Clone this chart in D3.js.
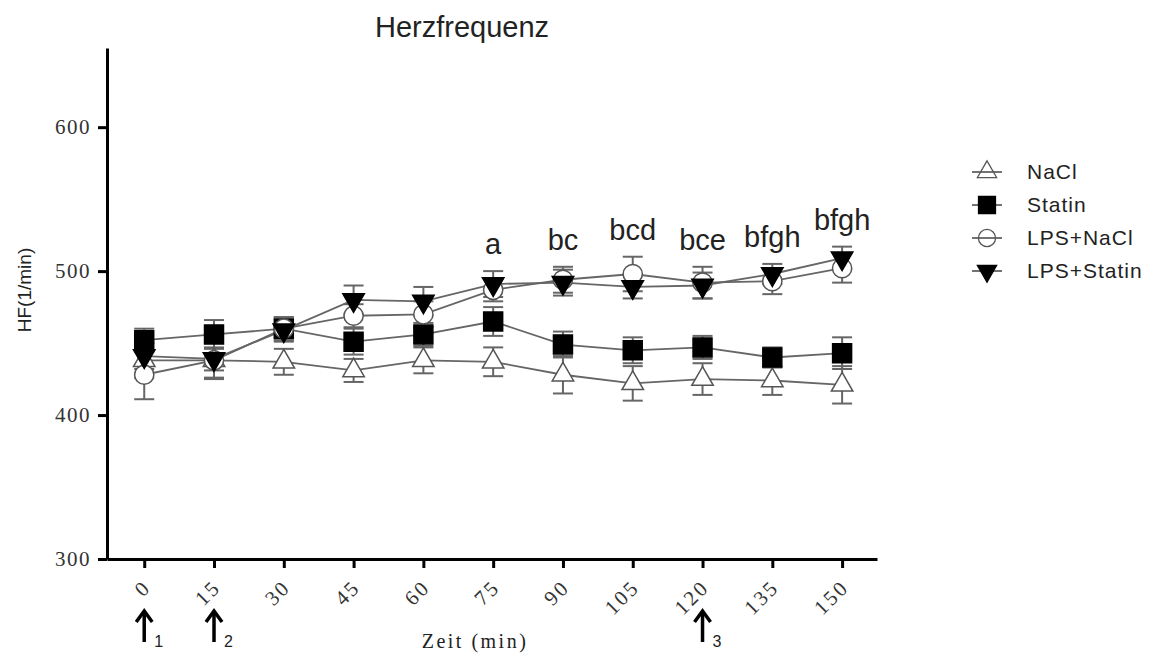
<!DOCTYPE html>
<html>
<head>
<meta charset="utf-8">
<script src="https://cdn.jsdelivr.net/npm/d3@7"></script>
<style>
  body { margin: 0; background: #fff; }
  svg { display: block; }
</style>
</head>
<body>
<svg id="chart" width="1162" height="655"></svg>
<script>
// time points (min)
var times = [0, 15, 30, 45, 60, 75, 90, 105, 120, 135, 150];

// heart rate means (1/min)
var nacl      = [438, 438, 437, 431, 438, 437, 428, 422, 425, 424, 421];
var statin    = [452, 456, 460, 451, 456, 465, 449, 445, 447, 440, 443];
var lpsNacl   = [428, 438, 460, 469, 470, 487, 494, 498, 492, 493, 502];
var lpsStatin = [441, 439, 459, 480, 479, 491, 492, 489, 490, 498, 509];

// SEM
var naclSem      = [12, 12, 9, 8, 9, 10, 13, 12, 11, 10, 13];
var statinSem    = [8, 10, 8, 9, 8, 10, 9, 9, 8, 7, 11];
var lpsNaclSem   = [17, 13, 8, 8, 9, 8, 9, 12, 11, 9, 10];
var lpsStatinSem = [9, 8, 8, 10, 10, 9, 9, 8, 9, 7, 8];

// significance letters per time point
var sigLetters = ['', '', '', '', '', 'a', 'bc', 'bcd', 'bce', 'bfgh', 'bfgh'];

var seriesNames = ['NaCl', 'Statin', 'LPS+NaCl', 'LPS+Statin'];
var yTicks = [300, 400, 500, 600];

// injection arrows: time point and subscript
var arrowTimes = [0, 15, 120];
var arrowLabels = ['1', '2', '3'];

var series = [
    {name: seriesNames[0], mean: nacl, sem: naclSem, type: d3.symbolTriangle, size: 200, rot: 0, fill: '#fff', stroke: '#555'},
    {name: seriesNames[1], mean: statin, sem: statinSem, type: d3.symbolSquare, size: 360, rot: 0, fill: '#000', stroke: '#000'},
    {name: seriesNames[2], mean: lpsNacl, sem: lpsNaclSem, type: d3.symbolCircle, size: 290, rot: 0, fill: '#fff', stroke: '#555'},
    {name: seriesNames[3], mean: lpsStatin, sem: lpsStatinSem, type: d3.symbolTriangle, size: 200, rot: 180, fill: '#000', stroke: '#000'}
];

var svg = d3.select('#chart');

var x = d3.scaleLinear().domain([-8, 157.5]).range([107, 877]);
var y = d3.scaleLinear().domain([300, 655]).range([559, 48]);

var serif = '"Liberation Serif", "Times New Roman", serif';
var sans = '"Liberation Sans", Arial, sans-serif';

// title
svg.append('text')
    .attr('x', 462)
    .attr('y', 37)
    .attr('text-anchor', 'middle')
    .style('font-family', sans)
    .style('font-size', '29px')
    .style('fill', '#222')
    .text('Herzfrequenz');

// y axis
var yAxis = svg.append('g')
    .attr('transform', 'translate(' + x(-8) + ',0)')
    .call(d3.axisLeft(y).tickValues(yTicks).tickSize(9).tickSizeOuter(0).tickPadding(7));
yAxis.select('.domain').attr('stroke', '#000').attr('stroke-width', 3);
yAxis.selectAll('.tick line').attr('stroke', '#000').attr('stroke-width', 3);
yAxis.selectAll('.tick text')
    .style('font-family', serif)
    .style('font-size', '21px')
    .style('letter-spacing', '1.5px')
    .style('fill', '#333');

svg.append('text')
    .attr('transform', 'translate(31,' + 290 + ') rotate(-90)')
    .attr('text-anchor', 'middle')
    .style('font-family', sans)
    .style('font-size', '19px')
    .style('fill', '#222')
    .text('HF(1/min)');

// x axis
var xAxis = svg.append('g')
    .attr('transform', 'translate(0,' + y(300) + ')')
    .call(d3.axisBottom(x).tickValues(times).tickSize(9).tickSizeOuter(0));
xAxis.select('.domain').attr('stroke', '#000').attr('stroke-width', 3);
xAxis.selectAll('.tick line').attr('stroke', '#000').attr('stroke-width', 3);
xAxis.selectAll('.tick text')
    .attr('y', 0)
    .attr('dy', '0.3em')
    .attr('transform', 'translate(3,25) rotate(-45)')
    .attr('text-anchor', 'end')
    .style('font-family', serif)
    .style('font-size', '21px')
    .style('letter-spacing', '2.5px')
    .style('fill', '#333');

svg.append('text')
    .attr('x', 475)
    .attr('y', 648)
    .attr('text-anchor', 'middle')
    .style('font-family', serif)
    .style('font-size', '20px')
    .style('letter-spacing', '2.5px')
    .style('fill', '#222')
    .text('Zeit (min)');

// arrows under the axis
var arrows = svg.selectAll('.inj')
    .data(arrowTimes)
    .enter().append('g')
    .attr('class', 'inj')
    .attr('transform', function (d) { return 'translate(' + x(d) + ',0)'; });
arrows.append('line')
    .attr('x1', 0).attr('x2', 0)
    .attr('y1', 642).attr('y2', 613)
    .attr('stroke', '#000').attr('stroke-width', 3.5);
arrows.append('path')
    .attr('d', 'M-8,622 L0,611 L8,622')
    .attr('fill', 'none')
    .attr('stroke', '#000').attr('stroke-width', 3.5);
arrows.append('text')
    .attr('x', 10)
    .attr('y', 647)
    .style('font-family', sans)
    .style('font-size', '16px')
    .style('fill', '#222')
    .text(function (d, i) { return arrowLabels[i]; });

// lines, error bars, markers
var line = d3.line()
    .x(function (d, i) { return x(times[i]); })
    .y(function (d) { return y(d); });

series.forEach(function (s) {
    svg.append('path')
        .datum(s.mean)
        .attr('d', line)
        .attr('fill', 'none')
        .attr('stroke', '#666')
        .attr('stroke-width', 1.8);
});

series.forEach(function (s) {
    var eb = svg.append('g').selectAll('g')
        .data(s.mean)
        .enter().append('g');
    eb.append('line')
        .attr('x1', function (d, i) { return x(times[i]); })
        .attr('x2', function (d, i) { return x(times[i]); })
        .attr('y1', function (d, i) { return y(d - s.sem[i]); })
        .attr('y2', function (d, i) { return y(d + s.sem[i]); })
        .attr('stroke', '#666').attr('stroke-width', 2);
    [-1, 1].forEach(function (sign) {
        eb.append('line')
            .attr('x1', function (d, i) { return x(times[i]) - 10; })
            .attr('x2', function (d, i) { return x(times[i]) + 10; })
            .attr('y1', function (d, i) { return y(d + sign * s.sem[i]); })
            .attr('y2', function (d, i) { return y(d + sign * s.sem[i]); })
            .attr('stroke', '#666').attr('stroke-width', 2);
    });
});

series.forEach(function (s) {
    var sym = d3.symbol().type(s.type).size(s.size);
    svg.append('g').selectAll('path')
        .data(s.mean)
        .enter().append('path')
        .attr('d', sym)
        .attr('transform', function (d, i) {
            return 'translate(' + x(times[i]) + ',' + y(d) + ') rotate(' + s.rot + ')';
        })
        .attr('fill', s.fill)
        .attr('stroke', s.stroke)
        .attr('stroke-width', 1.5);
});

// significance letters above the highest error bar
svg.append('g').selectAll('text')
    .data(sigLetters)
    .enter().append('text')
    .attr('x', function (d, i) { return x(times[i]); })
    .attr('y', function (d, i) {
        var top = d3.max(series, function (s) { return s.mean[i] + s.sem[i]; });
        return y(top) - 17;
    })
    .attr('text-anchor', 'middle')
    .style('font-family', sans)
    .style('font-size', '29px')
    .style('fill', '#222')
    .text(function (d) { return d; });

// legend
var legend = svg.append('g').selectAll('g')
    .data(series)
    .enter().append('g')
    .attr('transform', function (d, i) { return 'translate(987,' + (172 + i * 33) + ')'; });
legend.append('line')
    .attr('x1', -15).attr('x2', 15)
    .attr('stroke', '#444').attr('stroke-width', 1.5);
legend.append('path')
    .attr('d', function (d) { return d3.symbol().type(d.type).size(d.size * 0.8)(); })
    .attr('transform', function (d) { return 'rotate(' + d.rot + ')'; })
    .attr('fill', function (d) { return d.fill === '#fff' ? 'none' : d.fill; })
    .attr('stroke', function (d) { return d.stroke; })
    .attr('stroke-width', 1.3);
legend.append('text')
    .attr('x', 40)
    .attr('dy', '0.35em')
    .style('font-family', sans)
    .style('font-size', '21px')
    .style('letter-spacing', '1px')
    .style('fill', '#222')
    .text(function (d) { return d.name; });
</script>
</body>
</html>
